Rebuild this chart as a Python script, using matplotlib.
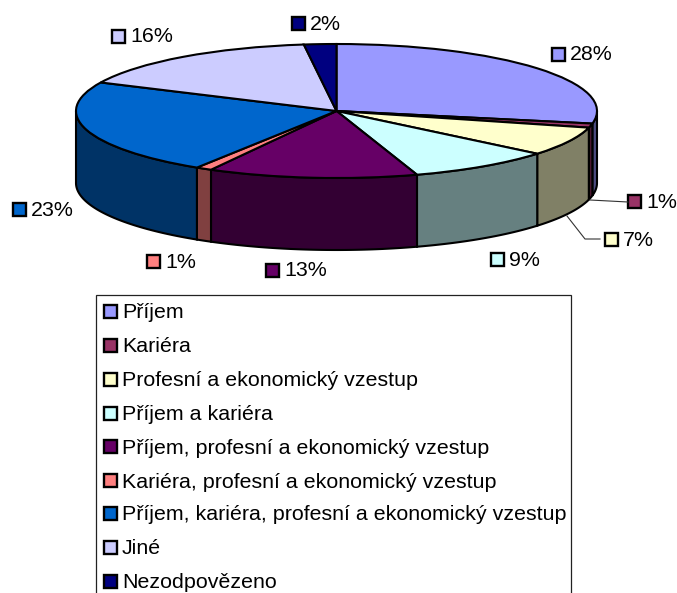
import numpy as np
import matplotlib
matplotlib.use("Agg")
import matplotlib.pyplot as plt
from matplotlib.patches import Polygon, Rectangle

plt.rcParams['font.family'] = ['Liberation Sans', 'DejaVu Sans']

# Data
categories = ["Příjem", "Kariéra", "Profesní a ekonomický vzestup", "Příjem a kariéra",
              "Příjem, profesní a ekonomický vzestup", "Kariéra, profesní a ekonomický vzestup",
              "Příjem, kariéra, profesní a ekonomický vzestup", "Jiné", "Nezodpovězeno"]
values = [28, 1, 7, 9, 13, 1, 23, 16, 2]
top_colors = ["#9999FF", "#993366", "#FFFFCC", "#CCFFFF", "#660066",
              "#FF8080", "#0066CC", "#CCCCFF", "#000080"]
side_colors = ["#4C4C80", "#4D1933", "#808066", "#668080", "#330033",
               "#804040", "#003366", "#666680", "#000040"]

# Label placement, in image pixels (swatch centre x, y)
label_pos = [(558, 54), (634, 201), (611, 239), (497, 259), (272, 270),
             (153, 261), (19, 209), (118, 36), (298, 23)]
legend_rows = [312, 346, 380, 414, 447, 481, 514, 548, 582]

W, H = 677, 593
fig = plt.figure(figsize=(W / 100, H / 100), dpi=100)

# Pie axes covers exactly the bounding box of the top ellipse
left, right, top, bottom = 76, 597, 44, 178
ax = fig.add_axes([left / W, 1 - bottom / H, (right - left) / W, (bottom - top) / H])
depth = 72 / ((bottom - top) / 2)  # wall height in y units of this axes

# Step 1: side walls (only the front half of the ellipse shows)
edges = np.cumsum([0] + values) * 3.6
for i in range(len(values)):
    a0 = max(edges[i], 90)
    a1 = min(edges[i + 1], 270)
    if a1 <= a0:
        continue
    t = np.radians(np.linspace(a0, a1, 80))
    x, y = np.sin(t), np.cos(t)
    pts = np.vstack([np.column_stack([x, y]),
                     np.column_stack([x[::-1], y[::-1] - depth])])
    ax.add_patch(Polygon(pts, closed=True, facecolor=side_colors[i], edgecolor="black",
                         linewidth=1.5, clip_on=False, zorder=1))

# Step 2: top face
wedges, _ = ax.pie(values, colors=top_colors, startangle=90, counterclock=False, radius=1,
                   wedgeprops={"edgecolor": "black", "linewidth": 1.5})
for w in wedges:
    w.set_clip_on(False)
    w.set_zorder(2)
ax.set_aspect("auto")
ax.set_xlim(-1, 1)
ax.set_ylim(-1, 1)
ax.axis("off")

# Overlay in pixel coordinates for labels and legend
ov = fig.add_axes([0, 0, 1, 1], zorder=5)
ov.set_xlim(0, W)
ov.set_ylim(H, 0)
ov.axis("off")


def swatch(cx, cy, color):
    ov.add_patch(Rectangle((cx - 6.5, cy - 6.5), 13, 13, facecolor=color, edgecolor="black",
                           linewidth=1.7))


# Step 3: leader lines
ov.plot([590, 628], [200, 202], color="#333333", lw=0.8)
ov.plot([567, 585, 600], [216, 239, 239], color="#333333", lw=0.8)

# Step 4: percent labels
for (cx, cy), v, c in zip(label_pos, values, top_colors):
    swatch(cx, cy, c)
    ov.text(cx + 12, cy + 1, f"{v}%", fontsize=15.4, va="center", ha="left", color="black")

# Step 5: legend box, runs off the bottom of the picture
ov.add_patch(Rectangle((96, 295), 475, 320, facecolor="white", edgecolor="#222222",
                       linewidth=0.9, zorder=0))
for name, row, c in zip(categories, legend_rows, top_colors):
    swatch(110, row - 1, c)
    ov.text(122, row + 1, name, fontsize=15.4, va="center", ha="left", color="black")

fig.savefig("out.png", dpi=100)
